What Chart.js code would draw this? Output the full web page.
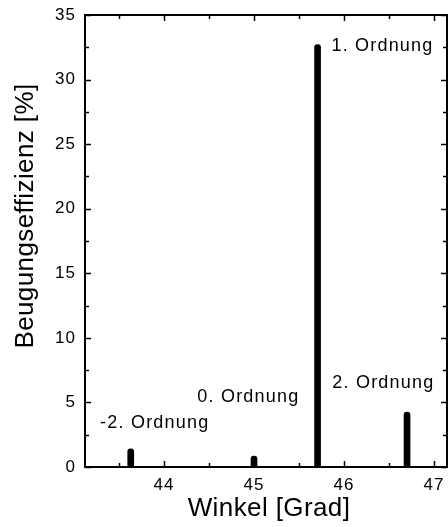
<!DOCTYPE html>
<html>
<head>
<meta charset="utf-8">
<script src="https://cdn.jsdelivr.net/npm/chart.js@4"></script>
<style>
  html, body { margin: 0; padding: 0; background: #fff; }
  #wrap { width: 448px; height: 527px; position: relative; }
</style>
</head>
<body>
<div id="wrap"><canvas id="chart1"></canvas></div>
<script>
// data
var winkel = [43.63, 45.0, 45.706, 46.7];
var effizienz = [1.4, 0.85, 32.7, 4.25];
var ordnungLabels = ['-2. Ordnung', '0. Ordnung', '1. Ordnung', '2. Ordnung'];
var labelX = [43.29, 44.37, 45.86, 45.87];
var labelY = [3.4, 5.4, 32.6, 6.5];
var xTicks = [44, 45, 46, 47];
var yTicks = [0, 5, 10, 15, 20, 25, 30, 35];

var fontFamily = '"Liberation Sans", Arial, Helvetica, sans-serif';

var points = winkel.map(function(w, i) { return { x: w, y: effizienz[i] }; });

// axes box, inward ticks, titles and order labels
var framePlugin = {
    id: 'frame',
    beforeDraw: function(chart) {
        chart.ctx.letterSpacing = '1px';
    },
    afterDraw: function(chart) {
        var ctx = chart.ctx;
        var a = chart.chartArea;
        var xs = chart.scales.x;
        var ys = chart.scales.y;
        ctx.save();
        ctx.strokeStyle = '#000';
        ctx.lineWidth = 2;
        ctx.strokeRect(a.left, a.top, a.right - a.left, a.bottom - a.top);

        ctx.lineWidth = 1.5;
        ctx.beginPath();
        xTicks.forEach(function(v) {
            [v, v - 0.5].forEach(function(t, k) {
                if (t < xs.min || t > xs.max) return;
                var px = Math.round(xs.getPixelForValue(t)) + 0.5;
                var len = k === 0 ? 6 : 4;
                ctx.moveTo(px, a.bottom); ctx.lineTo(px, a.bottom - len);
                ctx.moveTo(px, a.top); ctx.lineTo(px, a.top + len);
            });
        });
        yTicks.forEach(function(v) {
            [v, v - 2.5].forEach(function(t, k) {
                if (t < ys.min || t > ys.max) return;
                var py = Math.round(ys.getPixelForValue(t)) + 0.5;
                var len = k === 0 ? 6 : 4;
                ctx.moveTo(a.left, py); ctx.lineTo(a.left + len, py);
                ctx.moveTo(a.right, py); ctx.lineTo(a.right - len, py);
            });
        });
        ctx.stroke();

        // labels of the orders
        ctx.fillStyle = '#000';
        ctx.font = '18px ' + fontFamily;
        ctx.letterSpacing = '1.2px';
        ctx.textAlign = 'left';
        ctx.textBaseline = 'middle';
        ordnungLabels.forEach(function(t, i) {
            ctx.fillText(t, xs.getPixelForValue(labelX[i]), ys.getPixelForValue(labelY[i]));
        });

        // axis titles
        ctx.font = '26px ' + fontFamily;
        ctx.letterSpacing = '0.4px';
        ctx.textAlign = 'center';
        ctx.fillText('Winkel [Grad]', 269, 509);
        ctx.translate(26, 216);
        ctx.rotate(-Math.PI / 2);
        ctx.fillText('Beugungseffizienz [%]', 0, 0);
        ctx.restore();
    }
};

var ctx = document.getElementById('chart1').getContext('2d');

var myChart = new Chart(ctx, {
    type: 'bar',
    data: {
        datasets: [{
            data: points,
            backgroundColor: '#000',
            borderWidth: 0,
            barThickness: 6,
            borderRadius: { topLeft: 3, topRight: 3, bottomLeft: 0, bottomRight: 0 },
            borderSkipped: 'bottom'
        }]
    },
    options: {
        responsive: true,
        maintainAspectRatio: false,
        animation: false,
        layout: { padding: { top: 15, right: 1, left: 0, bottom: 0 } },
        plugins: {
            legend: { display: false },
            tooltip: { enabled: false }
        },
        scales: {
            x: {
                type: 'linear',
                offset: false,
                min: 43.122,
                max: 47.144,
                grid: { display: false, drawTicks: false, offset: false },
                border: { display: false },
                ticks: {
                    stepSize: 1,
                    includeBounds: false,
                    padding: 8,
                    color: '#000',
                    font: { family: fontFamily, size: 17 }
                },
                afterFit: function(s) {
                    s.height = 60;
                    s.paddingLeft = 0;
                    s.paddingRight = 0;
                }
            },
            y: {
                min: 0,
                max: 35,
                grid: { display: false, drawTicks: false },
                border: { display: false },
                ticks: {
                    stepSize: 5,
                    padding: 9,
                    color: '#000',
                    font: { family: fontFamily, size: 17 }
                },
                afterFit: function(s) {
                    s.width = 85;
                    s.paddingTop = 0;
                    s.paddingBottom = 0;
                }
            }
        }
    },
    plugins: [framePlugin]
});
</script>
</body>
</html>
